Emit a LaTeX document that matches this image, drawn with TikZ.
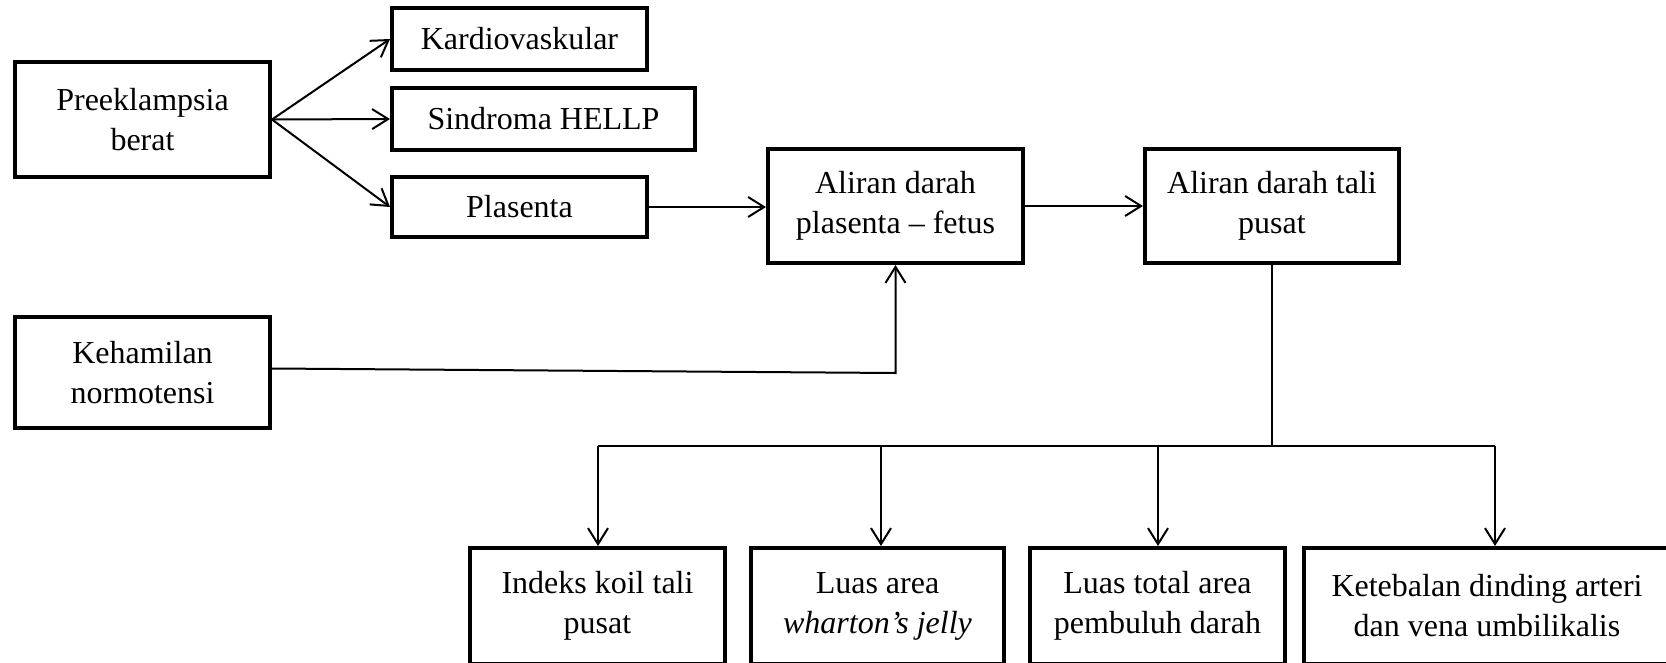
\documentclass[tikz,border=0pt]{standalone}
\usepackage{fontspec}
\setmainfont{Liberation Serif}
\usepackage{tikz}
\usetikzlibrary{arrows.meta,positioning,calc}
\tikzset{
  box/.style={rectangle,draw,line width=4pt,align=center,inner sep=0pt,
    font=\fontsize{32}{40}\selectfont},
  con/.style={line width=2pt},
  arr/.style={con,-{Straight Barb[length=16pt,width=20pt]}}
}
\begin{document}
\begin{tikzpicture}[x=1pt,y=-1pt]
    \useasboundingbox (0,0) rectangle (1666,662);

    % === Left column ===
    \node[box,minimum width=255pt,minimum height=115pt] (pre) at (142.5,119.5) {Preeklampsia\\berat};
    \node[box,minimum width=255pt,minimum height=111pt] (keh) at (142.5,372.5) {Kehamilan\\normotensi};

    % === Effects of preeclampsia ===
    \node[box,minimum width=255pt,minimum height=62pt] (kar) at (519.5,39) {Kardiovaskular};
    \node[box,minimum width=303pt,minimum height=62pt] (hel) at (543.5,119) {Sindroma HELLP};
    \node[box,minimum width=255pt,minimum height=60pt] (pla) at (519.5,207) {Plasenta};

    % === Blood flow ===
    \node[box,minimum width=255pt,minimum height=114pt] (apf) at (895.5,206) {Aliran darah\\plasenta -- fetus};
    \node[box,minimum width=254pt,minimum height=114pt] (atp) at (1272,206) {Aliran darah tali\\pusat};

    % === Bottom row ===
    \node[box,minimum width=255pt,minimum height=116pt] (ikt) at (597.5,606) {Indeks koil tali\\pusat};
    \node[box,minimum width=253pt,minimum height=116pt] (lwj) at (877.5,606) {Luas area\\\textit{wharton’s jelly}};
    \node[box,minimum width=255pt,minimum height=116pt] (lpd) at (1157.5,606) {Luas total area\\pembuluh darah};
    \node[box,minimum width=366pt,minimum height=116pt] (kdv) at (1487,606) {Ketebalan dinding arteri\\dan vena umbilikalis};

    % arrows from preeklampsia
    \draw[arr] (pre.east) -- (kar.west);
    \draw[arr] (pre.east) -- (hel.west);
    \draw[arr] (pre.east) -- (pla.west);
    \draw[arr] (pla.east) -- (pla.east -| apf.west);
    \draw[arr] (apf.east) -- (atp.west);

    % normotensive line into the flow box
    \coordinate (kc) at (apf.south |- 0,373);
    \draw[arr] ([yshift=4pt]keh.east) -- (kc) -- (apf.south);

    % bus down to the four measures
    \coordinate (bus) at (atp.south |- 0,446);
    \coordinate (b1) at (598,446);
    \coordinate (b4) at (1495,446);
    \draw[con] (atp.south) -- (bus);
    \draw[con] (b1) -- (b4);
    \draw[arr] (b1) -- (b1 |- ikt.north);
    \draw[arr] (881,446) -- (881,0 |- lwj.north);
    \draw[arr] (1158,446) -- (1158,0 |- lpd.north);
    \draw[arr] (b4) -- (b4 |- kdv.north);

\end{tikzpicture}
\end{document}
